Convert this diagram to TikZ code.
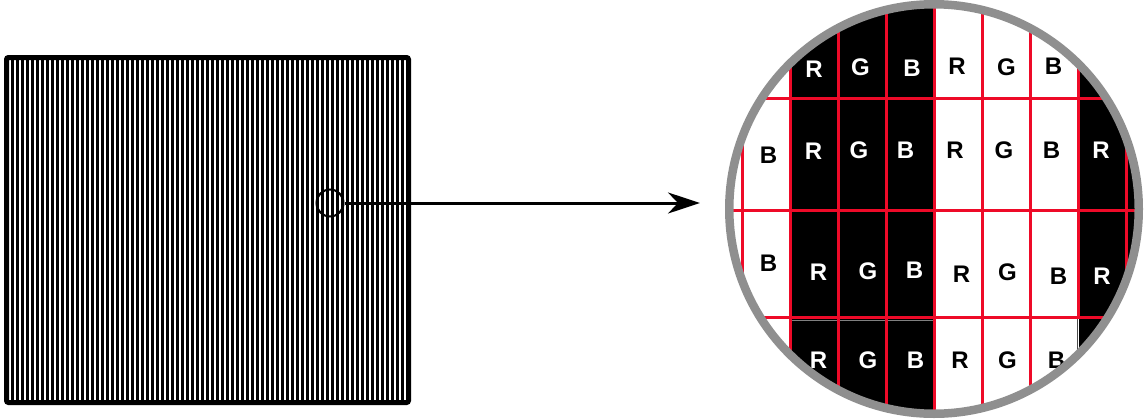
\documentclass[tikz,border=0pt]{standalone}
\usepackage{fontspec}
\setmainfont{Liberation Sans}
\usetikzlibrary{arrows.meta}
\definecolor{gridred}{RGB}{238,10,40}
\definecolor{ringgray}{RGB}{143,143,143}
\begin{document}
\begin{tikzpicture}[x=1pt,y=-1pt,
  lbl/.style={font=\fontsize{24}{24}\selectfont\bfseries, inner sep=0pt, anchor=center},
  wl/.style={lbl, text=white},
  bl/.style={lbl, text=black},
  redline/.style={draw=gridred, line width=3pt}]
\useasboundingbox (0,0) rectangle (1146,418);
\fill[white] (0,0) rectangle (1146,418);
% striped screen
\foreach \i in {0,...,78} \fill[black] (11+5*\i,58) rectangle ++(2.8,345);
\draw[line width=5pt, rounded corners=2pt] (6.5,57.5) rectangle (408.5,402.5);
\node[circle, draw, line width=2pt, minimum size=27pt, inner sep=0pt] (spot) at (330,203) {};
\coordinate (tip) at (700,203);
\draw[line width=3pt, -{Stealth[length=32pt,width=21pt,inset=10pt]}] (spot.east) -- (tip);
% magnifier
\coordinate (mc) at (934,209);
\begin{scope}
\clip (mc) circle[radius=204.75pt];
\fill[black] (790.1,0) rectangle (934.4,418);
\fill[black] (1078.7,0) rectangle (1146,418);
\draw[gray, line width=1pt] (790.1,320.7) -- (934.4,320.7);
\foreach \x in {742,790.1,838.2,886.3,934.4,982.5,1030.6,1126.8} \draw[redline] (\x,0) -- (\x,418);
\draw[redline] (1078.7,0) -- (1078.7,317.3);
\draw[black!70, line width=1pt] (1077.3,319) -- (1077.3,418);
\foreach \y in {98.3,210,317.3} \draw[redline] (700,\y) -- (1146,\y);
% row 1
\node[wl] (a1) at (814,69) {R};
\node[wl] (a2) at (860.5,67) {G};
\node[wl] (a3) at (912,68.5) {B};
\node[bl] (a4) at (957,66.7) {R};
\node[bl] (a5) at (1006.5,67) {G};
\node[bl] (a6) at (1053.5,66.5) {B};
% row 2
\node[bl] (b0) at (768.5,155.3) {B};
\node[wl] (b1) at (813.5,151) {R};
\node[wl] (b2) at (859,150.5) {G};
\node[wl] (b3) at (905.5,150.5) {B};
\node[bl] (b4) at (955,150) {R};
\node[bl] (b5) at (1004,150) {G};
\node[bl] (b6) at (1051.5,150) {B};
\node[wl] (b7) at (1101,150.5) {R};
% row 3
\node[bl] (c0) at (768.5,263.3) {B};
\node[wl] (c1) at (818.5,272) {R};
\node[wl] (c2) at (868,271) {G};
\node[wl] (c3) at (914.5,270.5) {B};
\node[bl] (c4) at (961.5,274.5) {R};
\node[bl] (c5) at (1007.5,272) {G};
\node[bl] (c6) at (1058.5,276.5) {B};
\node[wl] (c7) at (1102,276.5) {R};
% row 4
\node[wl] (d1) at (818.5,360) {R};
\node[wl] (d2) at (868,360) {G};
\node[wl] (d3) at (915.5,360) {B};
\node[bl] (d4) at (960,360) {R};
\node[bl] (d5) at (1007.5,360) {G};
\node[bl] (d6) at (1056.5,360) {B};
\end{scope}
\node[circle, draw=ringgray, line width=8.5pt, minimum size=409.5pt, inner sep=0pt] (mag) at (mc) {};
\end{tikzpicture}
\end{document}
